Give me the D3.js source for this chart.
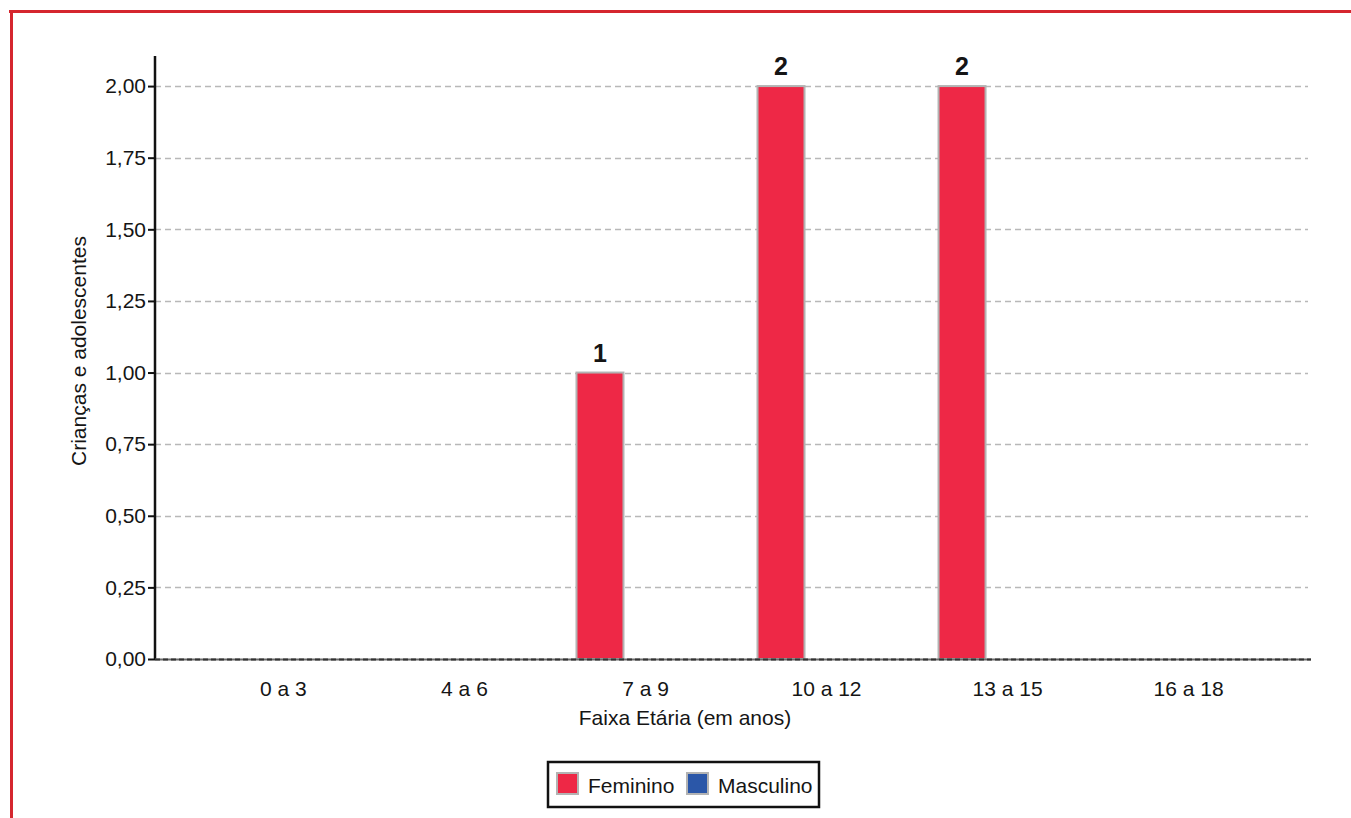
<!DOCTYPE html>
<html>
<head>
<meta charset="utf-8">
<script src="https://cdn.jsdelivr.net/npm/d3@7/dist/d3.min.js"></script>
<style>
  html, body { margin: 0; padding: 0; background: #fff; }
  svg { display: block; }
  text { font-family: "Liberation Sans", Arial, Helvetica, sans-serif; fill: #151515; }
</style>
</head>
<body>
<svg id="chart" width="1351" height="818"></svg>
<script>
const categories = ["0 a 3", "4 a 6", "7 a 9", "10 a 12", "13 a 15", "16 a 18"];
const seriesNames = ["Feminino", "Masculino"];
const feminino = [0, 0, 1, 2, 2, 0];
const masculino = [0, 0, 0, 0, 0, 0];
const seriesColors = ["#ee2846", "#2b57a8"];
const yTickValues = [0, 0.25, 0.5, 0.75, 1.0, 1.25, 1.5, 1.75, 2.0];
const yTitle = "Crianças e adolescentes";
const xTitle = "Faixa Etária (em anos)";

const svg = d3.select("#chart");
const FS = 21;

// outer red frame
svg.append("line").attr("x1", 9).attr("x2", 1351).attr("y1", 11.5).attr("y2", 11.5)
  .attr("stroke", "#d5262e").attr("stroke-width", 3);
svg.append("line").attr("x1", 11.5).attr("x2", 11.5).attr("y1", 10).attr("y2", 818)
  .attr("stroke", "#d5262e").attr("stroke-width", 3);

const plotLeft = 155, plotRight = 1311, plotTop = 56, plotBottom = 659;

const x = d3.scaleBand().domain(categories)
  .range([plotLeft + 3, plotRight + 3]).paddingInner(0).paddingOuter(0.193);
const xSub = d3.scaleBand().domain(seriesNames)
  .range([-69, 69]).paddingInner(0.4835).paddingOuter(0);
const y = d3.scaleLinear().domain([0, 2.105]).range([plotBottom, plotTop]);

// gridlines
svg.append("g").selectAll("line").data(yTickValues.filter(d => d > 0)).join("line")
  .attr("x1", plotLeft).attr("x2", plotRight - 3)
  .attr("y1", d => Math.round(y(d)) + 0.5).attr("y2", d => Math.round(y(d)) + 0.5)
  .attr("stroke", "#b8b8b8").attr("stroke-width", 1.3).attr("stroke-dasharray", "6,4");

// y axis
const fmt = d => d3.format(".2f")(d).replace(".", ",");
const yAxis = svg.append("g").attr("transform", `translate(${plotLeft},0)`)
  .call(d3.axisLeft(y).tickValues(yTickValues).tickFormat(fmt).tickSize(7).tickPadding(2));
yAxis.select(".domain").remove();
yAxis.selectAll(".tick line").attr("stroke", "#111").attr("stroke-width", 2);
yAxis.selectAll(".tick text").attr("font-size", FS).attr("fill", "#151515")
  .attr("font-family", "'Liberation Sans', Arial, sans-serif");
svg.append("line").attr("x1", plotLeft).attr("x2", plotLeft).attr("y1", plotTop).attr("y2", plotBottom + 1)
  .attr("stroke", "#111").attr("stroke-width", 2.5);

// bars
const data = categories.map((c, i) => ({cat: c, values: [feminino[i], masculino[i]]}));
const groups = svg.append("g").selectAll("g").data(data).join("g")
  .attr("transform", d => `translate(${x(d.cat) + x.bandwidth() / 2},0)`);
groups.selectAll("rect").data(d => d.values.map((v, j) => ({v, s: seriesNames[j], j}))).join("rect")
  .attr("x", d => xSub(d.s))
  .attr("width", xSub.bandwidth())
  .attr("y", d => y(d.v))
  .attr("height", d => y(0) - y(d.v))
  .attr("fill", d => seriesColors[d.j])
  .attr("stroke", "#b3b3b3").attr("stroke-width", 2);
groups.selectAll("text.val").data(d => d.values.map((v, j) => ({v, s: seriesNames[j]})).filter(d => d.v > 0))
  .join("text").attr("class", "val")
  .attr("x", d => xSub(d.s) + xSub.bandwidth() / 2)
  .attr("y", d => y(d.v) - 11)
  .attr("text-anchor", "middle").attr("font-size", 25).attr("font-weight", "bold")
  .text(d => d.v);

// x axis baseline
svg.append("line").attr("x1", plotLeft).attr("x2", plotRight).attr("y1", plotBottom + 0.5).attr("y2", plotBottom + 0.5)
  .attr("stroke", "#6b6b6b").attr("stroke-width", 2);
svg.append("line").attr("x1", plotLeft).attr("x2", plotRight).attr("y1", plotBottom + 0.5).attr("y2", plotBottom + 0.5)
  .attr("stroke", "#333").attr("stroke-width", 2).attr("stroke-dasharray", "5,3");

// x labels
const xAxis = svg.append("g").attr("transform", `translate(0,${plotBottom})`)
  .call(d3.axisBottom(x).tickSize(0).tickPadding(22));
xAxis.select(".domain").remove();
xAxis.selectAll(".tick text").attr("font-size", FS).attr("fill", "#151515")
  .attr("font-family", "'Liberation Sans', Arial, sans-serif");

// axis titles
svg.append("text").attr("x", 685).attr("y", 725).attr("text-anchor", "middle")
  .attr("font-size", FS).text(xTitle);
svg.append("text").attr("transform", "translate(86,351) rotate(-90)").attr("text-anchor", "middle")
  .attr("font-size", FS).text(yTitle);

// legend
const lg = svg.append("g");
lg.append("rect").attr("x", 548).attr("y", 762).attr("width", 271).attr("height", 45)
  .attr("fill", "#fff").attr("stroke", "#111").attr("stroke-width", 2.5);
const legendX = [557, 687];
seriesNames.forEach((s, i) => {
  lg.append("rect").attr("x", legendX[i]).attr("y", 773).attr("width", 21).attr("height", 21)
    .attr("fill", seriesColors[i]).attr("stroke", "#b3b3b3").attr("stroke-width", 2);
  lg.append("text").attr("x", legendX[i] + 31).attr("y", 793).attr("font-size", FS).text(s);
});
</script>
</body>
</html>
